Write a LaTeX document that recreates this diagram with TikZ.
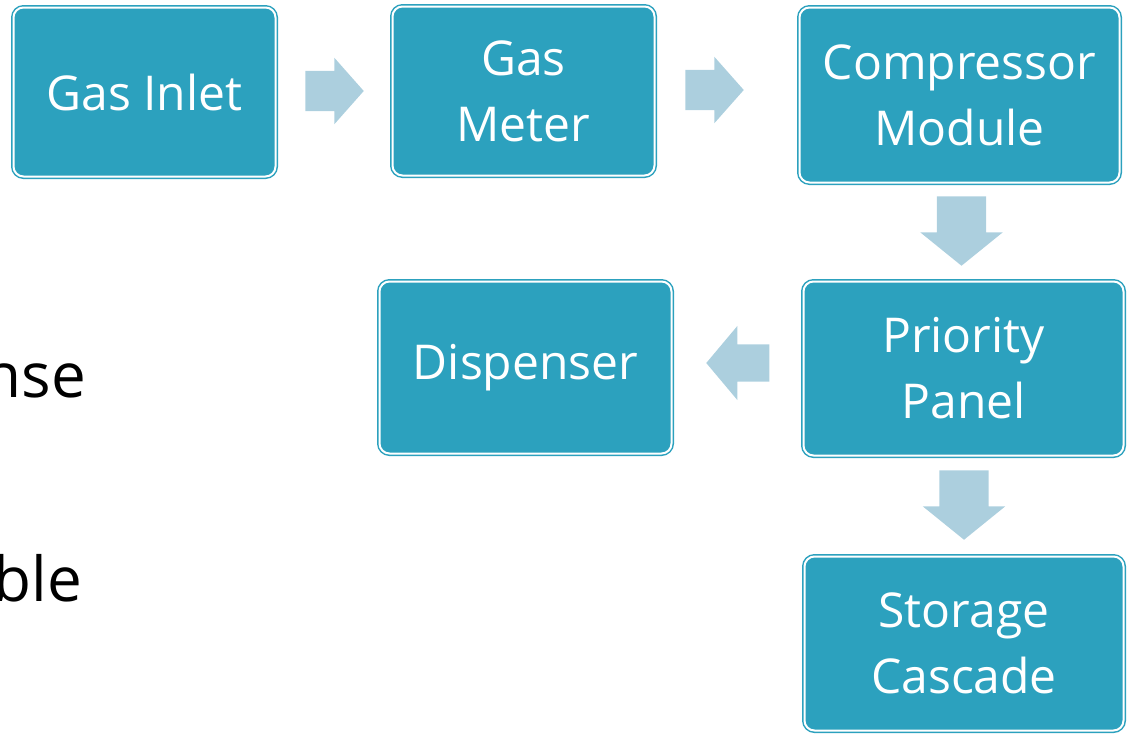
\documentclass[tikz,border=0pt]{standalone}
\usepackage{fontspec}
\setmainfont{Open Sans}
\usepackage{xcolor}
\usepackage{tikz}
\usetikzlibrary{shapes,arrows,positioning,calc}

\definecolor{boxteal}{RGB}{44,161,190}
\definecolor{arrowblue}{RGB}{172,207,222}

\begin{document}
\begin{tikzpicture}[x=1pt, y=-1pt,
    stage/.style={rectangle, rounded corners=10pt, fill=boxteal, draw=boxteal,
        line width=1.5pt, double=white, double distance=2pt, text=white,
        align=center, inner sep=0pt, font=\fontsize{48}{66}\selectfont},
    flow/.style={single arrow, fill=arrowblue, draw=none, anchor=tip}]
    \useasboundingbox (0,0) rectangle (1134,736);

    % Boxes
    \node[stage, minimum width=262, minimum height=169] (inlet) at (144.5,92) {Gas Inlet};
    \node[stage, minimum width=262, minimum height=169] (meter) at (523.5,91) {Gas\\Meter};
    \node[stage, minimum width=320, minimum height=175] (comp) at (959.5,95) {Compressor\\Module};
    \node[stage, minimum width=320, minimum height=174] (panel) at (963.5,368.5) {Priority\\Panel};
    \node[stage, minimum width=292, minimum height=172] (disp) at (525.5,367.5) {Dispenser};
    \node[stage, minimum width=319, minimum height=174] (store) at (964,643.5) {Storage\\Cascade};

    % Arrows between boxes
    \node[flow, inner sep=20pt, minimum height=57, single arrow head extend=13,
        single arrow tip angle=97] (a1) at (364,91) {};
    \node[flow, inner sep=20pt, minimum height=57, single arrow head extend=13,
        single arrow tip angle=97] (a2) at (744,90) {};
    \node[flow, shape border rotate=270, inner sep=24.5pt, minimum height=68,
        single arrow head extend=16.5, single arrow tip angle=102] (a3) at (961.5,266) {};
    \node[flow, shape border rotate=180, inner sep=18.5pt, minimum height=63,
        single arrow head extend=18.5, single arrow tip angle=100] (a4) at (706,363) {};
    \node[flow, shape border rotate=270, inner sep=24.5pt, minimum height=68,
        single arrow head extend=16.5, single arrow tip angle=102] (a5) at (964,540) {};

    % Cut-off text on the left
    \node[anchor=base east, inner sep=0pt, font=\fontsize{62}{74}\selectfont] (w1) at (86,397) {nse};
    \node[anchor=base east, inner sep=0pt, font=\fontsize{62}{74}\selectfont] (w2) at (82,601) {ble};
\end{tikzpicture}
\end{document}
